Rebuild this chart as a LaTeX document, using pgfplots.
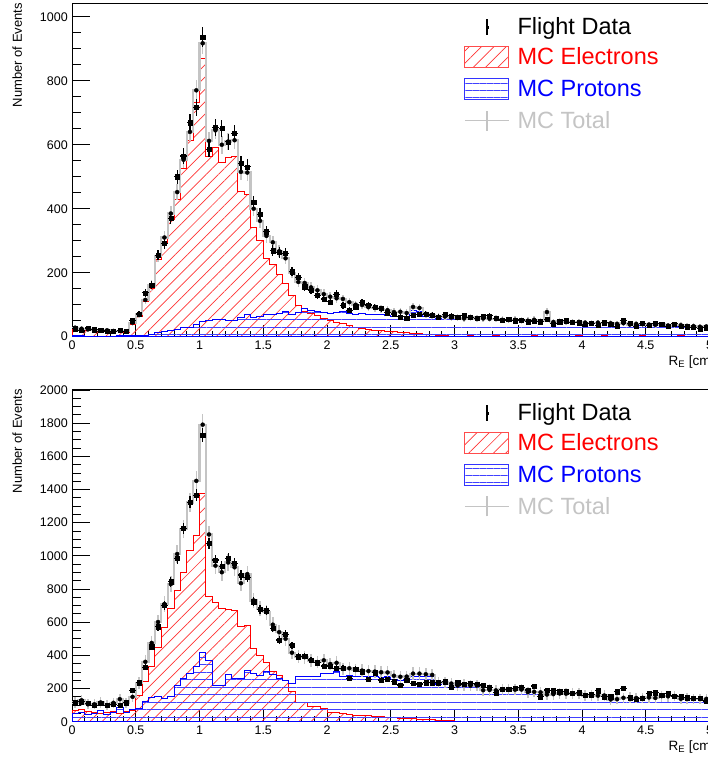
\documentclass[border=0pt]{standalone}
\usepackage{fontspec}
\setmainfont{Liberation Sans}
\usepackage{pgfplots}
\usepackage{pgfplotstable}
\pgfplotsset{compat=1.18}
\usetikzlibrary{patterns.meta}

\definecolor{mcgray}{RGB}{196,196,196}

% bins of 0.05 cm, x = left edge; last row closes the step line
% d = flight data, e = MC electrons, p = MC protons, t = MC total
\pgfplotstableread{
x d e p t
0.00 25 25 3 28
0.05 20 22 3 25
0.10 27 20 2 23
0.15 22 18 2 21
0.20 20 18 2 20
0.25 18 17 2 20
0.30 17 16 2 18
0.35 20 15 3 19
0.40 17 14 3 17
0.45 50 38 4 44
0.50 71 62 5 70
0.55 137 109 5 115
0.60 161 150 8 160
0.65 255 240 12 252
0.70 292 295 15 310
0.75 370 365 20 385
0.80 500 430 22 452
0.85 565 525 28 553
0.90 669 612 28 640
0.95 717 732 38 770
1.00 936 869 48 917
1.05 585 562 50 612
1.10 654 590 55 645
1.15 651 545 55 600
1.20 609 560 50 610
1.25 635 562 52 614
1.30 542 455 60 515
1.35 531 443 70 513
1.40 420 340 60 400
1.45 383 300 62 362
1.50 328 245 70 315
1.55 269 225 70 295
1.60 263 195 72 267
1.65 260 165 80 245
1.70 203 130 70 200
1.75 186 96 75 171
1.80 156 80 88 168
1.85 146 72 82 154
1.90 130 65 80 145
1.95 118 58 75 133
2.00 109 52 73 125
2.05 133 45 75 120
2.10 98 40 78 118
2.15 83 35 73 108
2.20 94 30 70 100
2.25 107 27 72 99
2.30 99 22 70 92
2.35 92 20 70 90
2.40 88 18 68 86
2.45 75 17 66 83
2.50 71 15 62 77
2.55 62 14 64 78
2.60 59 12 62 74
2.65 66 10 83 93
2.70 70 10 80 90
2.75 71 8 62 70
2.80 68 6 60 66
2.85 62 4 58 62
2.90 70 3 60 63
2.95 65 2 58 60
3.00 60 2 57 59
3.05 66 1 56 57
3.10 60 3 58 61
3.15 57 2 55 57
3.20 63 1 56 57
3.25 65 2 54 56
3.30 57 3 53 56
3.35 52 1 52 53
3.40 54 2 50 52
3.45 50 2 51 53
3.50 52 1 50 51
3.55 47 2 48 50
3.60 49 3 50 53
3.65 47 1 47 48
3.70 54 2 75 77
3.75 40 1 45 46
3.80 47 2 46 48
3.85 50 2 44 46
3.90 45 1 45 46
3.95 44 3 43 46
4.00 38 2 42 44
4.05 42 1 41 42
4.10 36 2 42 44
4.15 44 3 40 43
4.20 40 1 41 42
4.25 33 2 38 40
4.30 50 2 40 42
4.35 42 1 37 38
4.40 33 2 38 40
4.45 42 3 36 39
4.50 36 1 37 38
4.55 42 2 35 37
4.60 40 2 36 38
4.65 33 1 34 35
4.70 40 2 35 37
4.75 33 3 33 36
4.80 31 1 32 33
4.85 29 2 31 33
4.90 25 1 30 31
4.95 28 2 30 32
5.00 28 2 30 32
}\toptab

\pgfplotstableread{
x d e p t
0.00 114 66 50 116
0.05 120 74 55 129
0.10 110 60 45 105
0.15 100 55 50 105
0.20 110 50 66 116
0.25 100 55 44 99
0.30 106 60 54 114
0.35 100 50 86 136
0.40 114 60 54 114
0.45 190 70 74 150
0.50 235 155 80 235
0.55 327 240 121 361
0.60 452 330 145 475
0.65 573 450 151 601
0.70 701 570 140 710
0.75 844 680 150 830
0.80 985 790 221 1011
0.85 1166 900 262 1162
0.90 1322 1030 292 1322
0.95 1366 1120 332 1452
1.00 1728 1375 416 1791
1.05 1075 757 372 1129
1.10 975 720 221 941
1.15 938 680 221 901
1.20 985 675 285 960
1.25 955 670 261 931
1.30 884 575 260 835
1.35 870 579 311 890
1.40 723 440 291 731
1.45 677 400 281 681
1.50 669 355 305 660
1.55 563 300 285 585
1.60 492 280 260 540
1.65 528 250 250 500
1.70 462 185 231 416
1.75 392 118 275 393
1.80 396 114 275 389
1.85 372 92 275 367
1.90 356 90 270 360
1.95 336 78 290 370
2.00 336 58 290 348
2.05 322 55 300 355
2.10 322 48 270 318
2.15 262 42 280 322
2.20 316 40 272 312
2.25 302 36 272 308
2.30 256 35 270 305
2.35 296 30 272 302
2.40 252 30 268 298
2.45 256 27 270 297
2.50 241 25 252 277
2.55 221 21 250 271
2.60 252 20 252 272
2.65 231 18 272 290
2.70 227 15 275 290
2.75 235 14 272 286
2.80 235 12 270 282
2.85 235 10 227 237
2.90 241 8 228 236
2.95 207 5 225 230
3.00 235 3 215 218
3.05 227 4 216 220
3.10 231 3 214 217
3.15 227 3 215 218
3.20 221 3 187 190
3.25 207 3 188 191
3.30 175 3 186 189
3.35 195 3 191 194
3.40 195 4 192 196
3.45 201 3 190 193
3.50 207 3 191 194
3.55 191 3 175 178
3.60 215 4 176 180
3.65 151 3 174 177
3.70 191 3 161 164
3.75 187 4 162 166
3.80 181 3 167 170
3.85 181 3 166 169
3.90 171 3 168 171
3.95 175 3 167 170
4.00 159 3 155 158
4.05 163 4 156 160
4.10 187 3 154 157
4.15 151 3 155 158
4.20 151 3 131 134
4.25 181 4 132 136
4.30 201 3 141 144
4.35 145 3 142 145
4.40 135 3 140 143
4.45 141 3 141 144
4.50 171 4 142 146
4.55 175 3 140 143
4.60 161 3 151 154
4.65 171 3 150 153
4.70 155 3 152 155
4.75 151 3 135 138
4.80 145 3 136 139
4.85 141 3 134 137
4.90 141 3 135 138
4.95 125 3 135 138
5.00 125 3 135 138
}\bottab

\pgfplotsset{
  rootaxis/.style={
    scale only axis, width=637.5pt,
    anchor=south west,
    xmin=0, xmax=5, ymin=0,
    axis line style={line width=0.8pt},
    tick align=inside,
    xtick pos=left, ytick pos=left,
    xtick={0,0.5,...,5},
    minor x tick num=4, minor y tick num=3,
    tick style={black, line width=0.8pt},
    xtick style={/pgfplots/major tick length=12pt, /pgfplots/minor tick length=6pt},
    ytick style={/pgfplots/major tick length=18pt, /pgfplots/minor tick length=9pt},
    scaled y ticks=false,
    /pgf/number format/assume math mode=true,
    /pgf/number format/1000 sep={},
    tick label style={font=\fontsize{12.5}{14}\selectfont, inner sep=0pt},
    xticklabel style={yshift=-4pt},
    yticklabel style={xshift=-4pt},
    ylabel={Number of Events},
    xlabel={R\textsubscript{E} [cm]},
    every axis y label/.style={at={(axis description cs:-0.078,1)}, rotate=90,
      anchor=south east, font=\fontsize{13}{15}\selectfont, inner sep=0pt},
    every axis x label/.style={at={(axis description cs:1,0)}, anchor=base east,
      xshift=5pt, yshift=-28.5pt, font=\fontsize{13.5}{15}\selectfont, inner sep=0pt},
    legend cell align=left,
    legend style={draw=none, fill=none, inner sep=0pt, anchor=north west,
      font=\fontsize{23.5}{28}\selectfont, row sep=10pt,
      nodes={inner sep=0pt},
      /tikz/every odd column/.append style={column sep=8pt}},
  },
  ehist/.style={forget plot, const plot, draw=red, line width=1pt,
    pattern={Lines[angle=45, distance=8.7pt, line width=0.7pt]}, pattern color=red!80},
  phist/.style={forget plot, const plot, draw=blue, line width=1pt,
    pattern={Lines[angle=0, distance=7.5pt, line width=0.9pt]}, pattern color=blue!75},
  thist/.style={forget plot, const plot, draw=mcgray, line width=2.2pt},
}

\newcommand{\rootlegend}{%
  \addlegendimage{legend image code/.code={
    \draw[black, line width=1.3pt] (22pt,-8pt) -- (22pt,8pt);
    \fill[black] (21pt,-1pt) rectangle (23pt,1pt);}}
  \addlegendentry{Flight Data}
  \addlegendimage{legend image code/.code={
    \draw[red!70, line width=0.9pt,
      pattern={Lines[angle=45, distance=8.7pt, line width=0.7pt]}, pattern color=red!80]
      (0pt,-10.5pt) rectangle (44pt,10.5pt);}}
  \addlegendentry{\textcolor{red}{MC Electrons}}
  \addlegendimage{legend image code/.code={
    \draw[blue!80, line width=0.9pt,
      pattern={Lines[angle=0, distance=7pt, line width=0.9pt]}, pattern color=blue!75]
      (0pt,-10.5pt) rectangle (44pt,10.5pt);}}
  \addlegendentry{\textcolor{blue}{MC Protons}}
  \addlegendimage{legend image code/.code={
    \draw[mcgray, line width=1.3pt] (0pt,0pt) -- (44pt,0pt);
    \draw[mcgray, line width=1.3pt] (22pt,-10pt) -- (22pt,10pt);}}
  \addlegendentry{\textcolor{mcgray}{MC Total}}
}

\newcommand{\drawhists}[2]{% table, extra MC error
  \addplot[ehist] table[x=x, y=e] {#1} \closedcycle;
  \addplot[phist] table[x=x, y=p] {#1} \closedcycle;
  \addplot[thist] table[x=x, y=t] {#1};
  \addplot[forget plot, only marks, mark=none, skip coords between index={100}{101},
    error bars/.cd, y dir=both, y explicit, error mark=none,
    error bar style={mcgray, line width=1.4pt}]
    table[x expr=\thisrow{x}+0.025, y=t, y error expr={sqrt(\thisrow{t})+#2}] {#1};
  \addplot[forget plot, only marks, mark=square*, mark size=2.1pt, black,
    skip coords between index={100}{101},
    error bars/.cd, y dir=both, y explicit, x dir=both, x explicit, error mark=none,
    error bar style={black, line width=1.2pt}]
    table[x expr=\thisrow{x}+0.025, y=d, y error expr={sqrt(\thisrow{d})},
      x error expr={0.025}] {#1};
}

\begin{document}
\begin{tikzpicture}
\useasboundingbox (0pt,0pt) rectangle (708pt,762pt);

\begin{axis}[rootaxis, at={(72pt,425.3pt)}, height=333.7pt,
  ymax=1043, ytick={0,200,...,1000},
  legend style={at={(axis description cs:0.615,0.957)}}]
\rootlegend
\drawhists{\toptab}{3}
\end{axis}

\begin{axis}[rootaxis, at={(72pt,40.3pt)}, height=332.7pt,
  ymax=2006, ytick={0,200,...,2000},
  legend style={at={(axis description cs:0.615,0.957)}}]
\rootlegend
\drawhists{\bottab}{20}
\end{axis}
\end{tikzpicture}
\end{document}
